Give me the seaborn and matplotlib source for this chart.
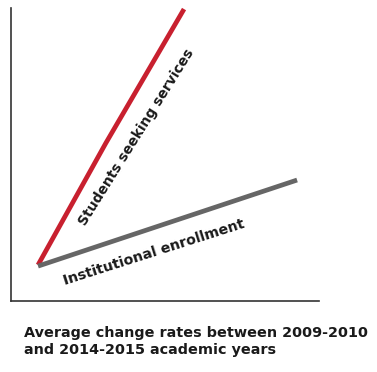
import seaborn as sns
import matplotlib.pyplot as plt
import pandas as pd

# positions on an unlabelled 0-100 scale
serie = ["Students seeking services"] * 3 + ["Institutional enrollment"] * 2
x_vals = [8.8, 30.8, 56.2, 8.8, 92.9]
y_vals = [12.3, 53.9, 99.7, 11.9, 41.3]
colores = {"Students seeking services": "#c8202f",
           "Institutional enrollment": "#666666"}
nota = "Average change rates between 2009-2010\nand 2014-2015 academic years"


def graficar(df):
    sns.set_style("white")
    plt.rcParams["font.family"] = ["DejaVu Sans Condensed", "DejaVu Sans"]
    fig = plt.figure(figsize=(3.77, 3.72), dpi=100)
    ax = fig.add_axes([0.029, 0.191, 0.817, 0.787])
    sns.lineplot(data=df, x="x", y="y", hue="serie", palette=colores,
                 linewidth=3.4, legend=False, ax=ax, sort=False,
                 solid_capstyle="butt")
    for ln in ax.get_lines():
        ln.set_clip_on(False)
    ax.set_xlim(0, 100)
    ax.set_ylim(0, 100)
    ax.set(xlabel="", ylabel="", xticks=[], yticks=[])
    sns.despine(ax=ax)
    for s in ["left", "bottom"]:
        ax.spines[s].set_color("#333333")
        ax.spines[s].set_linewidth(1.2)
    ax.text(40.6, 56, "Students seeking services", rotation=58,
            rotation_mode="anchor", ha="center", va="center",
            fontsize=10, fontweight="heavy", color="#1a1a1a")
    ax.text(46.5, 16.7, "Institutional enrollment", rotation=17.7,
            rotation_mode="anchor", ha="center", va="center",
            fontsize=10.2, fontweight="heavy", color="#1a1a1a")
    fig.text(0.064, 0.082, nota, ha="left", va="center", fontsize=10.4,
             fontweight="heavy", color="#1a1a1a", linespacing=1.2)
    fig.savefig("out.png", dpi=100)


if __name__ == "__main__":
    datos = pd.DataFrame({"serie": serie, "x": x_vals, "y": y_vals})
    graficar(datos)
